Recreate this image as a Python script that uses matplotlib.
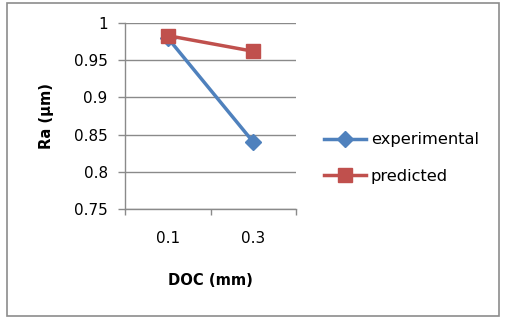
import numpy as np
import matplotlib.pyplot as plt
from matplotlib.patches import Rectangle

# data
doc_labels = ['0.1', '0.3']
ra_experimental = [0.980, 0.840]
ra_predicted = [0.983, 0.962]

W, H = 508, 320
fig = plt.figure(figsize=(W / 100, H / 100), dpi=100)
plt.rcParams['font.family'] = ['DejaVu Sans']

# outer chart frame
fig.patches.append(Rectangle((7 / W, 1 - 316 / H), 492 / W, 313 / H,
                             transform=fig.transFigure, fill=False,
                             edgecolor='#8c8c8c', linewidth=1.2))

ax = fig.add_axes([125 / W, 1 - 209 / H, 171 / W, 186 / H])

grid_color = '#8a8a8a'
blue = '#4F81BD'
red = '#C0504D'

x = np.arange(len(doc_labels))
ax.plot(x, ra_experimental, color=blue, linewidth=2.5, marker='D',
        markersize=8.5, label='experimental', zorder=3)
ax.plot(x, ra_predicted, color=red, linewidth=2.5, marker='s',
        markersize=10, label='predicted', zorder=4)

ax.set_xlim(-0.5, 1.5)
ax.set_ylim(0.75, 1.0)
ax.set_yticks(np.arange(0.75, 1.001, 0.05))
ax.set_yticklabels(['0.75', '0.8', '0.85', '0.9', '0.95', '1'])
ax.set_xticks(x)
ax.set_xticklabels(doc_labels)
ax.set_xticks([-0.5, 0.5, 1.5], minor=True)
ax.tick_params(axis='x', which='major', length=0, pad=16, labelsize=11)
ax.tick_params(axis='x', which='minor', length=4.5, color=grid_color, width=1)
ax.tick_params(axis='y', length=5, color=grid_color, width=1, labelsize=11, pad=7.5)

ax.grid(True, axis='y', color=grid_color, linewidth=1)
ax.set_axisbelow(True)
for side in ['top', 'right']:
    ax.spines[side].set_visible(False)
for side in ['left', 'bottom']:
    ax.spines[side].set_color(grid_color)
    ax.spines[side].set_linewidth(1)

ax.set_xlabel('DOC (mm)', fontweight='bold', fontsize=10.6, labelpad=19)
ax.set_ylabel('Ra (µm)', fontweight='bold', fontsize=10.6, labelpad=14)

ax.legend(loc='center left', bbox_to_anchor=(309 / W, 1 - 158 / H),
          bbox_transform=fig.transFigure, frameon=False, fontsize=11.7,
          handlelength=2.6, handletextpad=0.3, labelspacing=1.3)

fig.savefig('out.png', dpi=100)
